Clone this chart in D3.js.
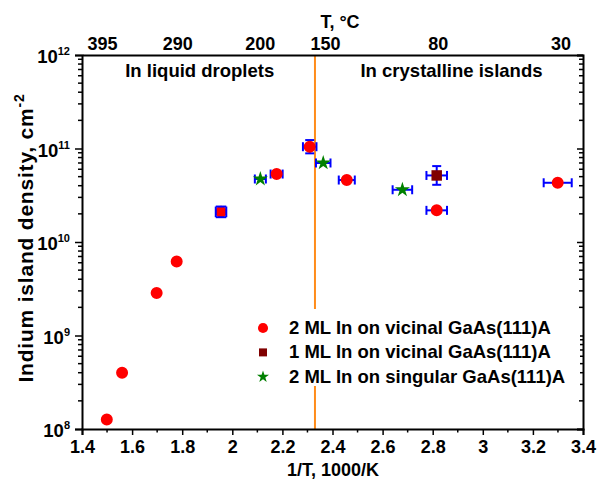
<!DOCTYPE html>
<html>
<head>
<meta charset="utf-8">
<script src="https://d3js.org/d3.v7.min.js"></script>
<style>
  body { margin: 0; background: #fff; }
  svg { font-family: "Liberation Sans", Arial, sans-serif; font-weight: bold; }
</style>
</head>
<body>
<div id="chart"></div>
<script>
// 2 ML In on vicinal GaAs(111)A
var vicinal2 = [
  {x: 1.499, y: 1.26e8},
  {x: 1.56, y: 4.0e8},
  {x: 1.698, y: 2.85e9},
  {x: 1.778, y: 6.2e9},
  {x: 1.955, y: 2.1e10, xe: 0.021, ye: 0.057},
  {x: 2.177, y: 5.33e10, xe: 0.024},
  {x: 2.309, y: 1.045e11, xe: 0.027, ye: 0.071},
  {x: 2.457, y: 4.6e10, xe: 0.032},
  {x: 2.816, y: 2.18e10, xe: 0.041},
  {x: 3.299, y: 4.3e10, xe: 0.056}
]
// 1 ML In on vicinal GaAs(111)A
var vicinal1 = [
  {x: 2.816, y: 5.15e10, xe: 0.041, ye: 0.1}
]
// 2 ML In on singular GaAs(111)A
var singular2 = [
  {x: 2.112, y: 4.72e10, xe: 0.022},
  {x: 2.363, y: 7.0e10, xe: 0.029},
  {x: 2.679, y: 3.62e10, xe: 0.039}
]
var bottomTicks = [1.4, 1.6, 1.8, 2, 2.2, 2.4, 2.6, 2.8, 3, 3.2, 3.4]
var topTicks = [1.48, 1.78, 2.11, 2.37, 2.82, 3.31]
var topLabels = ["395", "290", "200", "150", "80", "30"]
var yTickExp = [8, 9, 10, 11, 12]
var boundary = 2.33

var width = 597, height = 482
var margin = {top: 55, right: 14, bottom: 53, left: 82}
var w = width - margin.left - margin.right
var h = height - margin.top - margin.bottom

var svg = d3.select("#chart").append("svg")
  .attr("width", width).attr("height", height)
var g = svg.append("g")
  .attr("transform", "translate(" + margin.left + "," + margin.top + ")")

var x = d3.scaleLinear().domain([1.4, 3.4]).range([0, w])
var y = d3.scaleLog().domain([1e8, 1e12]).range([h, 0])

// minor ticks for log axis
var yMinor = []
for (var e = 8; e < 12; e++) {
  for (var m = 2; m <= 9; m++) yMinor.push(m * Math.pow(10, e))
}
var xMinor = d3.range(1.5, 3.4, 0.2)

// orange boundary line
g.append("line")
  .attr("x1", x(boundary)).attr("x2", x(boundary))
  .attr("y1", 0).attr("y2", h)
  .attr("stroke", "#ff8c1a").attr("stroke-width", 2)

// bottom axis
var bottomAxis = g.append("g").attr("transform", "translate(0," + h + ")")
bottomAxis.call(d3.axisBottom(x).tickValues(bottomTicks).tickFormat(d3.format("")).tickSize(6).tickPadding(5))
bottomAxis.selectAll("line.minor").data(xMinor).enter().append("line")
  .attr("class", "minor")
  .attr("x1", function(d) { return x(d) }).attr("x2", function(d) { return x(d) })
  .attr("y1", 0).attr("y2", 3.5).attr("stroke", "#000").attr("stroke-width", 1.5)

// left axis
var leftAxis = g.append("g")
leftAxis.call(d3.axisLeft(y).tickValues(yTickExp.map(function(e) { return Math.pow(10, e) })).tickFormat("").tickSize(7))
leftAxis.selectAll("line.minor").data(yMinor).enter().append("line")
  .attr("class", "minor")
  .attr("y1", function(d) { return y(d) }).attr("y2", function(d) { return y(d) })
  .attr("x1", 0).attr("x2", -4).attr("stroke", "#000").attr("stroke-width", 1.5)
leftAxis.selectAll("text.lbl").data(yTickExp).enter().append("text")
  .attr("class", "lbl")
  .attr("x", -12).attr("y", function(d) { return y(Math.pow(10, d)) + 8 })
  .attr("text-anchor", "end").attr("font-size", 18.5).attr("fill", "#000")
  .each(function(d) {
    var t = d3.select(this)
    t.append("tspan").text("10")
    t.append("tspan").attr("font-size", 11).attr("dy", -8).text(d)
  })

// right axis
var rightAxis = g.append("g").attr("transform", "translate(" + w + ",0)")
rightAxis.call(d3.axisLeft(y).tickValues(yTickExp.map(function(e) { return Math.pow(10, e) })).tickFormat("").tickSize(6))
rightAxis.selectAll("line.minor").data(yMinor).enter().append("line")
  .attr("class", "minor")
  .attr("y1", function(d) { return y(d) }).attr("y2", function(d) { return y(d) })
  .attr("x1", 0).attr("x2", -4).attr("stroke", "#000").attr("stroke-width", 1.5)

// top axis
var topAxis = g.append("g")
topAxis.call(d3.axisTop(x).tickValues(topTicks).tickFormat(function(d, i) { return topLabels[i] }).tickSize(0).tickPadding(5))

g.selectAll(".domain").attr("stroke", "#000").attr("stroke-width", 2)
g.selectAll(".tick line").attr("stroke", "#000").attr("stroke-width", 1.5)
g.selectAll(".tick text").attr("font-size", 18).attr("font-weight", "bold").attr("fill", "#000")
  .attr("font-family", "Liberation Sans, Arial, sans-serif")
rightAxis.selectAll(".tick line").attr("x2", -6)

// axis titles
svg.append("text").attr("x", 333).attr("y", 476).attr("text-anchor", "middle")
  .attr("font-size", 18).text("1/T, 1000/K")
svg.append("text").attr("x", 340).attr("y", 28).attr("text-anchor", "middle")
  .attr("font-size", 18).text("T, \u00b0C")
var yl = svg.append("text").attr("transform", "translate(33,238) rotate(-90)")
  .attr("text-anchor", "middle").attr("font-size", 21).attr("letter-spacing", 0.8)
yl.append("tspan").text("Indium island density, cm")
yl.append("tspan").attr("font-size", 14).attr("dy", -9).text("-2")

// region annotations
g.append("text").attr("x", x(1.87)).attr("y", 22).attr("text-anchor", "middle")
  .attr("font-size", 18.5).text("In liquid droplets")
g.append("text").attr("x", x(2.875)).attr("y", 22).attr("text-anchor", "middle")
  .attr("font-size", 18.5).text("In crystalline islands")

// error bars; very short bars in both directions close into a box drawn over the marker
function errorBars(data, boxedPass) {
  data.forEach(function(d) {
    var cx = x(d.x), cy = y(d.y)
    var xLen = d.xe ? x(d.x + d.xe) - cx : 0
    var yLen = d.ye ? cy - y(d.y * Math.pow(10, d.ye)) : 0
    var boxed = xLen > 0 && yLen > 0 && xLen < 6 && yLen < 6
    if (boxed !== boxedPass) return
    var eb = g.append("g").attr("stroke", "#0000ff").attr("stroke-width", 2).attr("fill", "none")
    var capX = boxed ? yLen : 4.5, capY = boxed ? xLen : 4.5
    if (d.xe) {
      var x0 = cx - xLen, x1 = cx + xLen
      if (!boxed) eb.append("line").attr("x1", x0).attr("x2", x1).attr("y1", cy).attr("y2", cy)
      eb.append("line").attr("x1", x0).attr("x2", x0).attr("y1", cy - capX).attr("y2", cy + capX)
      eb.append("line").attr("x1", x1).attr("x2", x1).attr("y1", cy - capX).attr("y2", cy + capX)
    }
    if (d.ye) {
      var y0 = cy - yLen, y1 = y(d.y / Math.pow(10, d.ye))
      if (!boxed) eb.append("line").attr("x1", cx).attr("x2", cx).attr("y1", y0).attr("y2", y1)
      eb.append("line").attr("x1", cx - capY).attr("x2", cx + capY).attr("y1", y0).attr("y2", y0)
      eb.append("line").attr("x1", cx - capY).attr("x2", cx + capY).attr("y1", y1).attr("y2", y1)
    }
  })
}
errorBars(vicinal2, false)
errorBars(vicinal1, false)
errorBars(singular2, false)

var circle = d3.symbol().type(d3.symbolCircle).size(113)
var square = d3.symbol().type(d3.symbolSquare).size(110)
var star = d3.symbol().type(d3.symbolStar).size(70)

g.selectAll("path.v2").data(vicinal2).enter().append("path")
  .attr("class", "v2").attr("d", circle).attr("fill", "#ff0000")
  .attr("transform", function(d) { return "translate(" + x(d.x) + "," + y(d.y) + ")" })
g.selectAll("path.v1").data(vicinal1).enter().append("path")
  .attr("class", "v1").attr("d", square).attr("fill", "#800000")
  .attr("transform", function(d) { return "translate(" + x(d.x) + "," + y(d.y) + ")" })
g.selectAll("path.s2").data(singular2).enter().append("path")
  .attr("class", "s2").attr("d", star).attr("fill", "#008000")
  .attr("transform", function(d) { return "translate(" + x(d.x) + "," + y(d.y) + ")" })

errorBars(vicinal2, true)
errorBars(vicinal1, true)
errorBars(singular2, true)

// legend
var legend = svg.append("g").attr("transform", "translate(245,309)")
legend.append("rect").attr("width", 335).attr("height", 77).attr("fill", "#fff")
var items = [
  {label: "2 ML In on vicinal GaAs(111)A", sym: d3.symbol().type(d3.symbolCircle).size(80), color: "#ff0000"},
  {label: "1 ML In on vicinal GaAs(111)A", sym: d3.symbol().type(d3.symbolSquare).size(64), color: "#800000"},
  {label: "2 ML In on singular GaAs(111)A", sym: d3.symbol().type(d3.symbolStar).size(45), color: "#008000"}
]
items.forEach(function(it, i) {
  var row = legend.append("g").attr("transform", "translate(0," + (19 + i * 24.4) + ")")
  row.append("path").attr("d", it.sym).attr("fill", it.color).attr("transform", "translate(18,0)")
  row.append("text").attr("x", 44).attr("y", 6).attr("font-size", 18.5).text(it.label)
})
</script>
</body>
</html>
